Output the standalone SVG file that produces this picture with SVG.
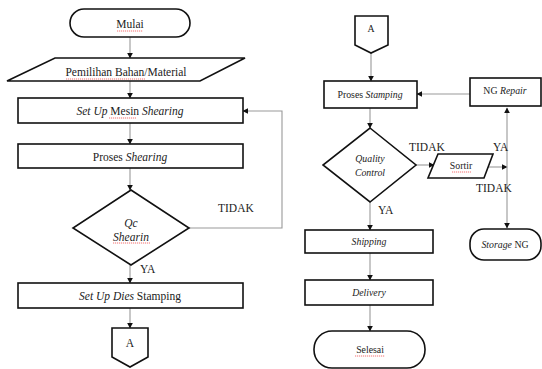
<svg xmlns="http://www.w3.org/2000/svg" width="542" height="369" viewBox="0 0 542 369" font-family="'Liberation Serif', 'DejaVu Serif', serif">
<style>
.box{fill:#fff;stroke:#111;stroke-width:1.6}
.con{fill:none;stroke:#999;stroke-width:1.1}
.t{fill:#222;text-anchor:middle}
.l{font-size:11.5px}
.r{font-size:9.8px}
.lab{fill:#222;font-size:11.5px}
.sp{fill:none;stroke:#e33;stroke-width:0.7;stroke-dasharray:1.2 0.8}
</style>
<defs>
<marker id="ah" viewBox="0 0 10 10" refX="9" refY="5" markerWidth="6" markerHeight="6" orient="auto-start-reverse" markerUnits="userSpaceOnUse">
<path d="M0,0 L10,5 L0,10 z" fill="#111"/>
</marker>
</defs>
<rect width="542" height="369" fill="#fff"/>
<g id="connectors">
<line class="con" x1="130" y1="37" x2="130" y2="58" marker-end="url(#ah)"/>
<line class="con" x1="130" y1="81" x2="130" y2="98" marker-end="url(#ah)"/>
<line class="con" x1="130" y1="123" x2="130" y2="144" marker-end="url(#ah)"/>
<line class="con" x1="130" y1="168" x2="130" y2="190" marker-end="url(#ah)"/>
<line class="con" x1="130" y1="265" x2="130" y2="283" marker-end="url(#ah)"/>
<line class="con" x1="130" y1="308" x2="130" y2="328" marker-end="url(#ah)"/>
<polyline class="con" points="189,228 282,228 282,111 243,111" marker-end="url(#ah)"/>
<line class="con" x1="371" y1="53" x2="371" y2="81" marker-end="url(#ah)"/>
<line class="con" x1="470" y1="94" x2="417" y2="94" marker-end="url(#ah)"/>
<line class="con" x1="370" y1="108" x2="370" y2="128" marker-end="url(#ah)"/>
<line class="con" x1="416" y1="165" x2="434" y2="165" marker-end="url(#ah)"/>
<line class="con" x1="487" y1="167" x2="507" y2="167" marker-end="url(#ah)"/>
<line class="con" x1="507" y1="108" x2="507" y2="228" marker-start="url(#ah)" marker-end="url(#ah)"/>
<line class="con" x1="370" y1="202" x2="370" y2="230" marker-end="url(#ah)"/>
<line class="con" x1="370" y1="253" x2="370" y2="280" marker-end="url(#ah)"/>
<line class="con" x1="370" y1="305" x2="370" y2="331" marker-end="url(#ah)"/>
<text class="lab" x="218" y="212">TIDAK</text>
<text class="lab" x="140" y="273">YA</text>
<text class="lab" x="409" y="151" font-size="10">TIDAK</text>
<text class="lab" x="493" y="151" font-size="10">YA</text>
<text class="lab" x="476" y="192" font-size="10">TIDAK</text>
<text class="lab" x="378" y="214" font-size="10">YA</text>
</g>
<g id="mulai">
<rect class="box" x="70" y="9" width="120" height="28" rx="14"/>
<text class="t l" x="130" y="28">Mulai</text>
<path class="sp" d="M117,31 L143,31"/>
</g>
<g id="pemilihan">
<polygon class="box" points="55,58 245,58 200,81 7,81"/>
<text class="t l" x="126" y="76">Pemilihan Bahan/Material</text>
<path class="sp" d="M66,79 L145,79"/>
</g>
<g id="setup-mesin">
<rect class="box" x="18" y="98" width="225" height="25"/>
<text class="t l" x="130" y="115"><tspan font-style="italic">Set Up</tspan> Mesin <tspan font-style="italic">Shearing</tspan></text>
<path class="sp" d="M109,118 L136,118"/>
</g>
<g id="proses-shearing">
<rect class="box" x="18" y="144" width="225" height="24"/>
<text class="t l" x="130" y="161">Proses <tspan font-style="italic">Shearing</tspan></text>
</g>
<g id="qc-shearin">
<polygon class="box" points="131,190 189,228 131,265 73,228"/>
<text class="t l" x="131" y="227" font-style="italic">Qc</text>
<text class="t l" x="131" y="241" font-style="italic">Shearin</text>
<path class="sp" d="M113,243 L150,243"/>
</g>
<g id="setup-dies">
<rect class="box" x="18" y="283" width="225" height="25"/>
<text class="t l" x="130" y="300"><tspan font-style="italic">Set Up Dies</tspan> Stamping</text>
</g>
<g id="a-out">
<polygon class="box" points="112,328 148,328 148,357 130,367 112,357"/>
<text class="t l" x="130" y="347">A</text>
</g>
<g id="a-in">
<polygon class="box" points="355,16 388,16 388,45 371,53 355,45"/>
<text class="t r" x="371" y="32">A</text>
</g>
<g id="proses-stamping">
<rect class="box" x="324" y="81" width="93" height="27"/>
<text class="t r" x="370" y="98">Proses <tspan font-style="italic">Stamping</tspan></text>
</g>
<g id="ng-repair">
<rect class="box" x="470" y="78" width="71" height="28"/>
<text class="t r" x="505" y="94">NG <tspan font-style="italic">Repair</tspan></text>
</g>
<g id="quality-control">
<polygon class="box" points="370,128 416,165 370,202 323,165"/>
<text class="t r" x="370" y="162" font-style="italic" fill="#444">Quality</text>
<text class="t r" x="370" y="176" font-style="italic" fill="#444">Control</text>
</g>
<g id="sortir">
<polygon class="box" points="438,154 493,154 484,178 428,178"/>
<text class="t r" x="461" y="169">Sortir</text>
<path class="sp" d="M452,172 L471,172"/>
</g>
<g id="storage-ng">
<rect class="box" x="470" y="229" width="71" height="31" rx="14"/>
<text class="t r" x="505" y="248"><tspan font-style="italic">Storage</tspan> NG</text>
</g>
<g id="shipping">
<rect class="box" x="305" y="230" width="128" height="23"/>
<text class="t r" x="369" y="245" font-style="italic">Shipping</text>
</g>
<g id="delivery">
<rect class="box" x="305" y="280" width="128" height="25"/>
<text class="t r" x="369" y="296" font-style="italic">Delivery</text>
</g>
<g id="selesai">
<rect class="box" x="314" y="331" width="111" height="37" rx="18"/>
<text class="t r" x="370" y="353">Selesai</text>
<path class="sp" d="M355,356 L385,356"/>
</g>
</svg>
